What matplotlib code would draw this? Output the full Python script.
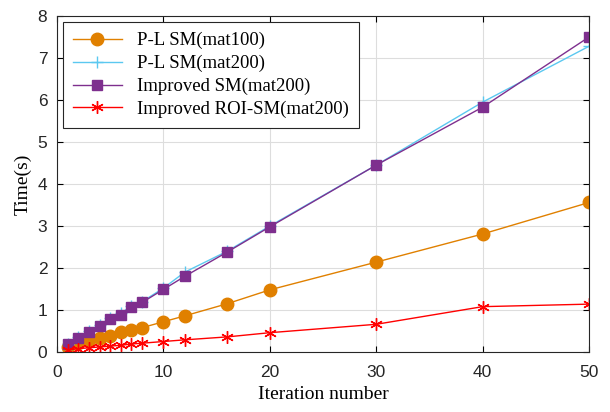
import numpy as np
from matplotlib import pyplot as plt

iters = [1, 2, 3, 4, 5, 6, 7, 8, 10, 12, 16, 20, 30, 40, 50]
pl_mat100 = [0.13, 0.21, 0.29, 0.33, 0.37, 0.47, 0.52, 0.58, 0.72, 0.86, 1.15, 1.48, 2.14, 2.81, 3.56]
pl_mat200 = [0.20, 0.35, 0.50, 0.65, 0.80, 0.92, 1.10, 1.20, 1.52, 1.90, 2.40, 3.00, 4.45, 5.95, 7.28]
imp_mat200 = [0.18, 0.33, 0.47, 0.62, 0.78, 0.88, 1.08, 1.18, 1.49, 1.80, 2.38, 2.98, 4.45, 5.83, 7.50]
roi_mat200 = [0.05, 0.08, 0.10, 0.12, 0.14, 0.16, 0.19, 0.21, 0.25, 0.29, 0.36, 0.46, 0.66, 1.08, 1.14]

labels = ['P-L SM(mat100)', 'P-L SM(mat200)', 'Improved SM(mat200)', 'Improved ROI-SM(mat200)']

serif = 'Liberation Serif'
sans = 'Liberation Sans'

fig = plt.figure(figsize=(6.1, 4.12), dpi=100)
ax = fig.add_axes([0.0934, 0.1456, 0.8722, 0.8155])

ax.plot(iters, pl_mat100, '-o', color='#E08000', markersize=9, linewidth=1, label=labels[0])
ax.plot(iters, pl_mat200, '-+', color='#5BC8F0', markersize=9, markeredgewidth=1, linewidth=1, label=labels[1])
ax.plot(iters, imp_mat200, '-s', color='#7E2F8E', markersize=7.5, linewidth=1, label=labels[2])
# MATLAB-style asterisk
ax.plot(iters, roi_mat200, '-', marker=(6, 2, 0), color='#FF0000', markersize=9,
        markeredgewidth=1, linewidth=1, label=labels[3])

ax.set_xlim(0, 50)
ax.set_ylim(0, 8)
ax.set_xticks(range(0, 51, 10))
ax.set_yticks(range(0, 9))
ax.grid(True, color='#DDDDDD', linewidth=0.8)
ax.set_axisbelow(True)
ax.tick_params(direction='in', length=4, top=True, right=True, labeltop=False, labelright=False)
ax.tick_params(axis='x', pad=9)
ax.tick_params(axis='y', pad=7)
for lab in ax.get_xticklabels() + ax.get_yticklabels():
    lab.set_fontfamily(sans)
    lab.set_fontsize(12.5)
    lab.set_color('#262626')
for s in ax.spines.values():
    s.set_color('#262626')

ax.set_xlabel('Iteration number', fontfamily=serif, fontsize=14, labelpad=5)
ax.set_ylabel('Time(s)', fontfamily=serif, fontsize=14, labelpad=4)

leg = ax.legend(loc='upper left', prop={'family': serif, 'size': 13.5}, fancybox=False,
                edgecolor='#262626', framealpha=1, handlelength=2.6, borderpad=0.55,
                labelspacing=0.3, borderaxespad=0.3)
leg.get_frame().set_linewidth(0.8)

fig.savefig('out.png', dpi=100)
